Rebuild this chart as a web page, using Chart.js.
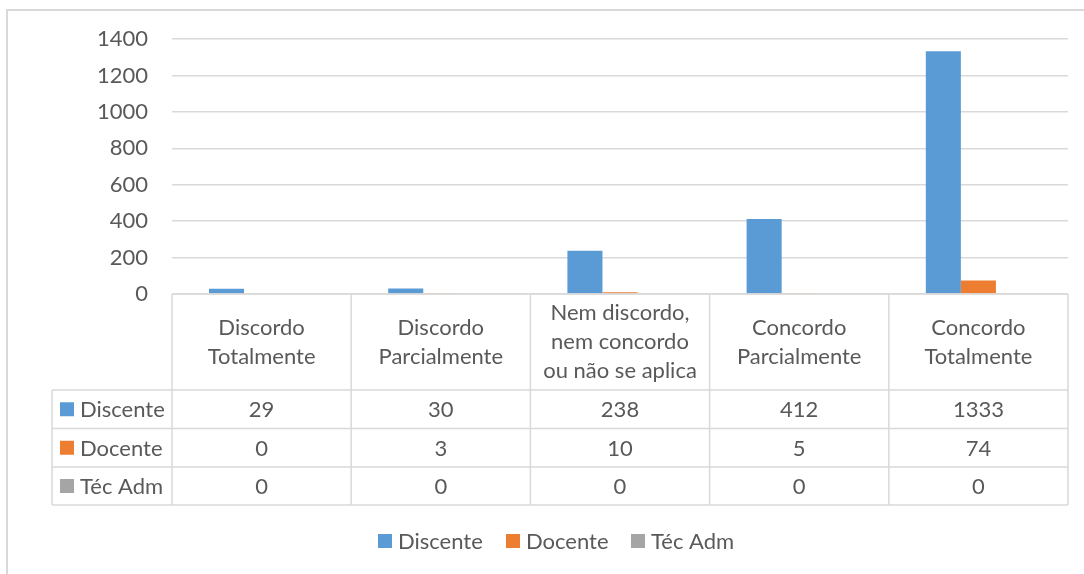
<!DOCTYPE html>
<html>
<head>
<meta charset="utf-8">
<script src="https://cdn.jsdelivr.net/npm/chart.js@4"></script>
<style>
  body { margin: 0; background: #fff; }
  canvas { display: block; }
</style>
</head>
<body>
<canvas id="chart" width="1084" height="574"></canvas>
<script>
// data
const categories = [
    ['Discordo', 'Totalmente'],
    ['Discordo', 'Parcialmente'],
    ['Nem discordo,', 'nem concordo', 'ou não se aplica'],
    ['Concordo', 'Parcialmente'],
    ['Concordo', 'Totalmente']
];
const seriesNames = ['Discente', 'Docente', 'Téc Adm'];
const discente = [29, 30, 238, 412, 1333];
const docente = [0, 3, 10, 5, 74];
const tecAdm = [0, 0, 0, 0, 0];
const yTicks = [0, 200, 400, 600, 800, 1000, 1200, 1400];

const colors = ['#5B9BD5', '#ED7D31', '#A5A5A5'];
const textColor = '#595959';
const lineColor = '#D9D9D9';
const FONT = 'Lato';
const FSIZE = 22;

// table + legend + frame, drawn under the chart area
const tablePlugin = {
    id: 'dataTable',
    afterDraw(chart) {
        const ctx = chart.ctx;
        const x = chart.scales.x;
        const area = chart.chartArea;
        const n = categories.length;
        const colW = (area.right - area.left) / n;
        const top = area.bottom;
        const rowY = [top, top + 96, top + 134.5, top + 173, top + 211];
        const labelLeft = 52;

        ctx.save();
        // outer frame (only top and left visible)
        ctx.strokeStyle = lineColor;
        ctx.lineWidth = 2;
        ctx.beginPath();
        ctx.moveTo(7, 600); ctx.lineTo(7, 10); ctx.lineTo(1100, 10);
        ctx.stroke();

        ctx.lineWidth = 1.5;
        ctx.beginPath();
        // horizontal lines
        ctx.moveTo(area.left, rowY[0]); ctx.lineTo(area.right, rowY[0]);
        for (let r = 1; r < rowY.length; r++) {
            ctx.moveTo(labelLeft, rowY[r]); ctx.lineTo(area.right, rowY[r]);
        }
        // vertical lines
        for (let c = 0; c <= n; c++) {
            const xx = area.left + c * colW;
            ctx.moveTo(xx, rowY[0]); ctx.lineTo(xx, rowY[4]);
        }
        ctx.moveTo(labelLeft, rowY[1]); ctx.lineTo(labelLeft, rowY[4]);
        ctx.stroke();

        ctx.fillStyle = textColor;
        ctx.font = FSIZE + 'px ' + FONT;
        ctx.textAlign = 'center';
        ctx.textBaseline = 'middle';
        const lh = 29;
        categories.forEach((lines, i) => {
            const cx = x.getPixelForValue(i);
            const cy = (rowY[0] + rowY[1]) / 2;
            const y0 = cy - (lines.length - 1) * lh / 2;
            lines.forEach((t, k) => ctx.fillText(t, cx, y0 + k * lh));
        });

        const rows = chart.data.datasets;
        rows.forEach((ds, r) => {
            const cy = (rowY[r + 1] + rowY[r + 2]) / 2;
            ctx.fillStyle = ds.backgroundColor;
            ctx.fillRect(60, cy - 7, 14, 14);
            ctx.fillStyle = textColor;
            ctx.textAlign = 'left';
            ctx.fillText(ds.label, 80, cy + 1);
            ctx.textAlign = 'center';
            ds.data.forEach((v, i) => ctx.fillText(String(v), x.getPixelForValue(i), cy + 1));
        });

        // legend
        const legX = [378, 506, 631];
        const legY = 541;
        rows.forEach((ds, r) => {
            ctx.fillStyle = ds.backgroundColor;
            ctx.fillRect(legX[r], legY - 7, 14, 14);
            ctx.fillStyle = textColor;
            ctx.textAlign = 'left';
            ctx.fillText(ds.label, legX[r] + 20, legY + 1);
        });
        ctx.restore();
    }
};

new Chart(document.getElementById('chart'), {
    type: 'bar',
    data: {
        labels: categories.map(c => c.join(' ')),
        datasets: [
            { label: seriesNames[0], data: discente, backgroundColor: colors[0] },
            { label: seriesNames[1], data: docente, backgroundColor: colors[1] },
            { label: seriesNames[2], data: tecAdm, backgroundColor: colors[2] }
        ]
    },
    options: {
        responsive: false,
        animation: false,
        layout: { padding: { left: 0, top: 39, right: 16, bottom: 280 } },
        datasets: { bar: { categoryPercentage: 0.587, barPercentage: 1 } },
        plugins: { legend: { display: false }, tooltip: { enabled: false } },
        scales: {
            x: { display: false },
            y: {
                min: 0,
                max: 1400,
                afterBuildTicks: s => { s.ticks = yTicks.map(v => ({ value: v })); },
                afterFit: s => { s.width = 172; },
                border: { display: false },
                grid: { color: lineColor, lineWidth: 1.5, drawTicks: false },
                ticks: {
                    color: textColor,
                    padding: 24,
                    font: { family: FONT, size: FSIZE },
                    callback: v => String(v)
                }
            }
        }
    },
    plugins: [tablePlugin]
});
</script>
</body>
</html>
